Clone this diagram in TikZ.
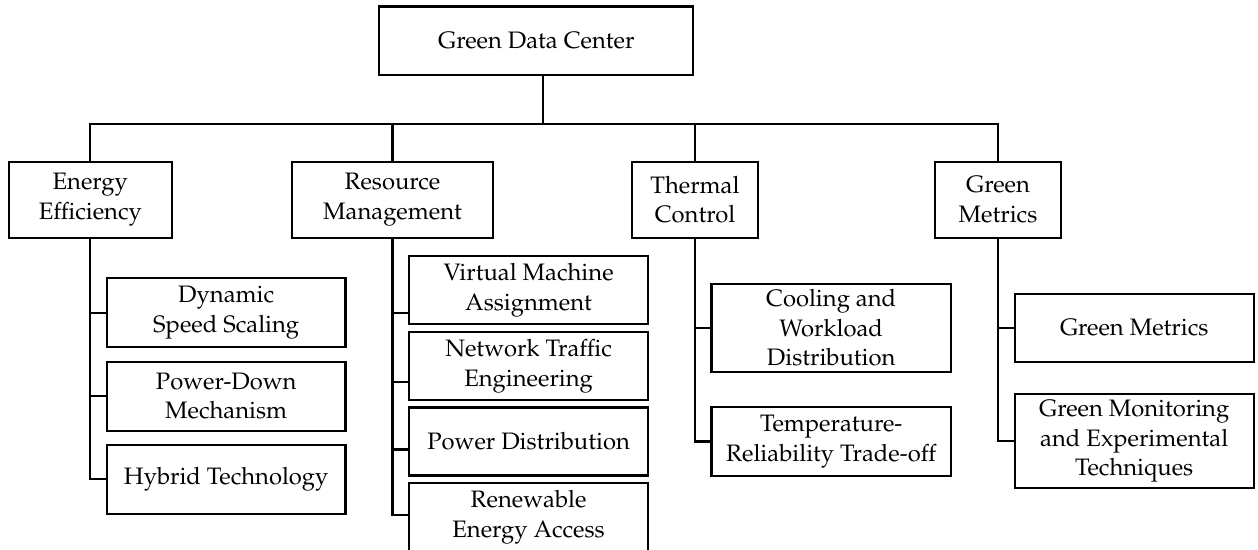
\documentclass[tikz,border=0pt]{standalone}
\usepackage[T1]{fontenc}
\usepackage{mathpazo}
\usetikzlibrary{calc}
\tikzset{
  box/.style={draw=black, line width=1.1pt, align=center, inner sep=0pt,
    font=\fontsize{11.9}{14.75}\selectfont},
  link/.style={draw=black, line width=1.1pt},
}
\begin{document}
\begin{tikzpicture}[x=0.5pt,y=-0.5pt]
\useasboundingbox (0,0) rectangle (1258,550);
% root and categories
\node[box, minimum width=157pt, minimum height=34.2pt] (root) at (536.3,40.8) {Green Data Center};
\node[box, minimum width=81.3pt, minimum height=38pt] (ee) at (90.3,199.7) {Energy\\Efficiency};
\node[box, minimum width=100.5pt, minimum height=38pt] (rm) at (392.5,199.7) {Resource\\Management};
\node[box, minimum width=63pt, minimum height=38pt] (tc) at (695,199.7) {Thermal\\Control};
\node[box, minimum width=63pt, minimum height=38pt] (gm) at (998,199.7) {Green\\Metrics};
% energy efficiency children
\node[box, minimum width=119.3pt, minimum height=34.5pt] (dss) at (226.2,312.8) {Dynamic\\Speed Scaling};
\node[box, minimum width=119.3pt, minimum height=34.5pt] (pdm) at (226.2,396.2) {Power-Down\\Mechanism};
\node[box, minimum width=119.3pt, minimum height=34.5pt] (hyb) at (226.2,479.3) {Hybrid Technology};
% resource management children
\node[box, minimum width=119.3pt, minimum height=34pt] (vm) at (528.6,290) {Virtual Machine\\Assignment};
\node[box, minimum width=119.3pt, minimum height=34pt] (nt) at (528.6,366.2) {Network Traffic\\Engineering};
\node[box, minimum width=119.3pt, minimum height=34pt] (pd) at (528.6,441.5) {Power Distribution};
\node[box, minimum width=119.3pt, minimum height=34pt] (ren) at (528.6,517) {Renewable\\Energy Access};
% thermal control children
\node[box, minimum width=119.8pt, minimum height=44pt] (cool) at (831.2,328) {Cooling and\\Workload\\Distribution};
\node[box, minimum width=119.8pt, minimum height=34.5pt] (temp) at (831.2,441.5) {Temperature-\\Reliability Trade-off};
% green metrics children
\node[box, minimum width=119.5pt, minimum height=34.3pt] (gmet) at (1134.2,328) {Green Metrics};
\node[box, minimum width=119.5pt, minimum height=47pt] (gmon) at (1134.2,441.3) {Green Monitoring\\and Experimental\\Techniques};
% bus from root to categories
\coordinate (bus) at (543.3,124);
\draw[link] (root.south -| bus) -- (bus);
\draw[link] (ee.north) -- (ee.north |- bus) -- (gm.north |- bus) -- (gm.north);
\draw[link] (rm.north) -- (rm.north |- bus);
\draw[link] (tc.north) -- (tc.north |- bus);
% energy efficiency tree
\draw[link] (ee.south) |- (hyb.west);
\draw[link] (ee.south |- dss.west) -- (dss.west);
\draw[link] (ee.south |- pdm.west) -- (pdm.west);
% resource management tree (ticks below box centres)
\coordinate (vmT) at ($(vm.south west)!0.176!(vm.north west)$);
\coordinate (ntT) at ($(nt.south west)!0.28!(nt.north west)$);
\coordinate (pdT) at ($(pd.south west)!0.385!(pd.north west)$);
\coordinate (renT) at ($(ren.south west)!0.53!(ren.north west)$);
\draw[link] (rm.south) |- (renT);
\draw[link] (rm.south |- vmT) -- (vmT);
\draw[link] (rm.south |- ntT) -- (ntT);
\draw[link] (rm.south |- pdT) -- (pdT);
% thermal control tree
\draw[link] (tc.south) |- (temp.west);
\draw[link] (tc.south |- cool.west) -- (cool.west);
% green metrics tree
\draw[link] (gm.south) |- (gmon.west);
\draw[link] (gm.south |- gmet.west) -- (gmet.west);
\end{tikzpicture}
\end{document}
